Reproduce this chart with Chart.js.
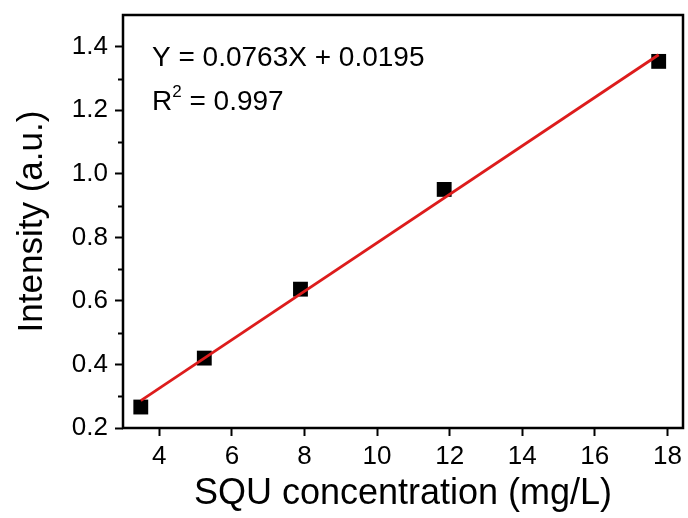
<!DOCTYPE html>
<html>
<head>
<meta charset="utf-8">
<script src="https://cdn.jsdelivr.net/npm/chart.js@4"></script>
<style>
  html, body { margin: 0; padding: 0; background: #fff; overflow: hidden; }
  #wrap { width: 688px; height: 518px; }
</style>
</head>
<body>
<div id="wrap"><canvas id="cal"></canvas></div>
<script>
// measured points
var concentration = [3.49, 5.24, 7.89, 11.85, 17.76];
var intensity = [0.266, 0.42, 0.637, 0.951, 1.354];
// fitted line, ends
var fitX = [3.49, 17.76];
var fitY = [0.286, 1.375];
var xTicks = [4, 6, 8, 10, 12, 14, 16, 18];
var yTicks = [0.2, 0.4, 0.6, 0.8, 1.0, 1.2, 1.4];
var yMinor = [0.3, 0.5, 0.7, 0.9, 1.1, 1.3];
var eqLine = 'Y = 0.0763X + 0.0195';
var r2Value = '0.997';

var FONT = '"Liberation Sans", Arial, sans-serif';

var frame = {
  id: 'frame',
  afterDraw: function(chart) {
    var ctx = chart.ctx, a = chart.chartArea;
    var y = chart.scales.y;
    ctx.save();
    ctx.strokeStyle = '#000';
    ctx.lineWidth = 2.5;
    ctx.strokeRect(a.left, a.top, a.right - a.left, a.bottom - a.top);
    // minor ticks on y
    ctx.lineWidth = 2;
    yMinor.forEach(function(v) {
      var py = Math.round(y.getPixelForValue(v)) + 0.5;
      ctx.beginPath();
      ctx.moveTo(a.left - 5, py);
      ctx.lineTo(a.left, py);
      ctx.stroke();
    });
    // equation text
    ctx.fillStyle = '#000';
    ctx.textBaseline = 'alphabetic';
    ctx.textAlign = 'left';
    ctx.font = '28px ' + FONT;
    var tx = a.left + 29;
    ctx.fillText(eqLine, tx, a.top + 51);
    ctx.fillText('R', tx, a.top + 95);
    var rw = ctx.measureText('R').width;
    ctx.font = '17px ' + FONT;
    ctx.fillText('2', tx + rw, a.top + 82);
    var sw = ctx.measureText('2').width;
    ctx.font = '28px ' + FONT;
    ctx.fillText(' = ' + r2Value, tx + rw + sw, a.top + 95);
    ctx.restore();
  }
};

new Chart(document.getElementById('cal'), {
  type: 'scatter',
  data: {
    datasets: [{
        type: 'line',
        data: fitX.map(function(x, i) { return {x: x, y: fitY[i]}; }),
        borderColor: '#dd1c1c',
        borderWidth: 2.8,
        pointRadius: 0,
        fill: false
      }, {
        data: concentration.map(function(x, i) { return {x: x, y: intensity[i]}; }),
        pointStyle: 'rect',
        pointRadius: 10.5,
        backgroundColor: '#000',
        borderColor: '#000',
        borderWidth: 0
      }
    ]
  },
  options: {
    responsive: true,
    maintainAspectRatio: false,
    animation: false,
    layout: { autoPadding: false, padding: { top: 15, right: 5, left: 0, bottom: 0 } },
    plugins: {
      legend: { display: false },
      tooltip: { enabled: false }
    },
    scales: {
      x: {
        type: 'linear',
        min: 3,
        max: 18.43,
        afterBuildTicks: function(s) { s.ticks = xTicks.map(function(v) { return {value: v}; }); },
        afterFit: function(s) { s.height = 90; s.paddingLeft = 0; s.paddingRight = 0; },
        border: { display: false },
        grid: { drawOnChartArea: false, tickLength: 8, tickWidth: 2, tickColor: '#000' },
        ticks: { color: '#000', padding: 5, maxRotation: 0, font: { family: FONT, size: 26 } },
        title: {
          display: true,
          text: 'SQU concentration (mg/L)',
          color: '#000',
          font: { family: FONT, size: 36 },
          padding: { top: 0, bottom: 2 }
        }
      },
      y: {
        min: 0.2,
        max: 1.5,
        afterBuildTicks: function(s) { s.ticks = yTicks.map(function(v) { return {value: v}; }); },
        afterFit: function(s) { s.width = 123; s.paddingTop = 0; s.paddingBottom = 0; },
        border: { display: false },
        grid: { drawOnChartArea: false, tickLength: 8, tickWidth: 2, tickColor: '#000' },
        ticks: {
          color: '#000', padding: 7,
          font: { family: FONT, size: 26 },
          callback: function(v) { return v.toFixed(1); }
        },
        title: {
          display: true,
          text: 'Intensity (a.u.)',
          color: '#000',
          font: { family: FONT, size: 35 },
          padding: { top: 11, bottom: 0 }
        }
      }
    }
  },
  plugins: [frame]
});
</script>
</body>
</html>
